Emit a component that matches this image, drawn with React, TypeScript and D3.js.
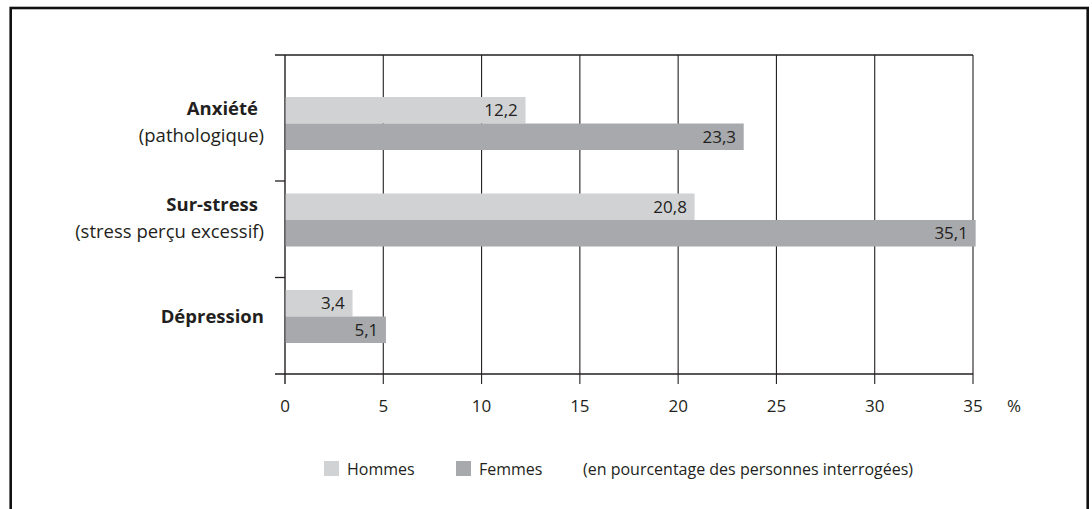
import React from 'react';
import * as d3 from 'd3';

// data
const categories = ['Anxiété', 'Sur-stress', 'Dépression'];
const subLabels = ['(pathologique)', '(stress perçu excessif)', ''];
const seriesNames = ['Hommes', 'Femmes'];
const hommes = [12.2, 20.8, 3.4];
const femmes = [23.3, 35.1, 5.1];
const xTicks = [0, 5, 10, 15, 20, 25, 30, 35];
const note = '(en pourcentage des personnes interrogées)';

const colors = ['#d1d2d4', '#a7a9ac'];
const ink = '#231f20';
const font = "'Open Sans', sans-serif";

const W = 1092;
const H = 509;
const plotLeft = 285;
const plotRight = 973;
const plotTop = 55;
const plotBottom = 374;

const fmt = (v: number) => String(v).replace('.', ',');

const App = () => {
    const x = d3.scaleLinear().domain([0, 35]).range([plotLeft, plotRight]);
    const y = d3.scaleBand().domain(categories).range([84.5, plotBottom]).paddingInner(0);
    const inner = d3.scaleBand().domain(seriesNames).range([12.5, 65.5]).padding(0);
    const series = [hommes, femmes];

    const yTicks = categories.slice(1).map(c => y(c) as number);

    return (
        <svg width={W} height={H} style={{ position: 'absolute', left: 0, top: 0 }}
            fontFamily={font} fill={ink}>
            <rect x={0} y={0} width={W} height={H} fill="#fff" />
            <rect x={10.7} y={8} width={1077} height={520} fill="none" stroke="#111" strokeWidth={2.6} />

            {/* gridlines */}
            {xTicks.map(t => (
                <line key={'g' + t} x1={x(t)} x2={x(t)} y1={plotTop} y2={plotBottom + 10}
                    stroke={ink} strokeWidth={t === 0 ? 1.4 : 1.1} />
            ))}
            <line x1={plotLeft - 10} x2={plotRight} y1={plotTop} y2={plotTop} stroke={ink} strokeWidth={1.3} />
            <line x1={plotLeft - 10} x2={plotRight} y1={plotBottom} y2={plotBottom} stroke={ink} strokeWidth={1.3} />
            {yTicks.map((t, i) => (
                <line key={'yt' + i} x1={plotLeft - 10} x2={plotLeft} y1={t} y2={t} stroke={ink} strokeWidth={1.3} />
            ))}

            {/* bars */}
            {categories.map((c, ci) => (
                <g key={c} transform={`translate(0,${y(c)})`}>
                    {series.map((s, si) => {
                        const yy = inner(seriesNames[si]) as number;
                        const bw = inner.bandwidth();
                        return (
                            <g key={si}>
                                <rect x={x(0) + 0.7} y={yy} width={x(s[ci]) - x(0)} height={bw} fill={colors[si]} />
                                <text x={x(s[ci]) - 7} y={yy + bw / 2 + 6} textAnchor="end" fontSize={17}>
                                    {fmt(s[ci])}
                                </text>
                            </g>
                        );
                    })}
                </g>
            ))}

            {/* category labels */}
            {categories.map((c, ci) => {
                const cy = (y(c) as number) + 39;
                const two = subLabels[ci] !== '';
                return (
                    <g key={'l' + c} fontSize={18.5}>
                        <text x={two ? 258 : 264} y={two ? cy - 9 : cy + 6} textAnchor="end" fontWeight="bold">
                            {c}
                        </text>
                        {two && (
                            <text x={264} y={cy + 18} textAnchor="end">{subLabels[ci]}</text>
                        )}
                    </g>
                );
            })}

            {/* x tick labels */}
            {xTicks.map(t => (
                <text key={'xl' + t} x={x(t)} y={412} textAnchor="middle" fontSize={17}>{t}</text>
            ))}
            <text x={1014} y={412} textAnchor="middle" fontSize={17}>%</text>

            {/* legend */}
            <g fontSize={16}>
                <rect x={324} y={461} width={15} height={15} fill={colors[0]} />
                <text x={347} y={475}>{seriesNames[0]}</text>
                <rect x={456} y={461} width={15} height={15} fill={colors[1]} />
                <text x={479} y={475}>{seriesNames[1]}</text>
                <text x={583} y={475}>{note}</text>
            </g>
        </svg>
    );
};

export default App;
